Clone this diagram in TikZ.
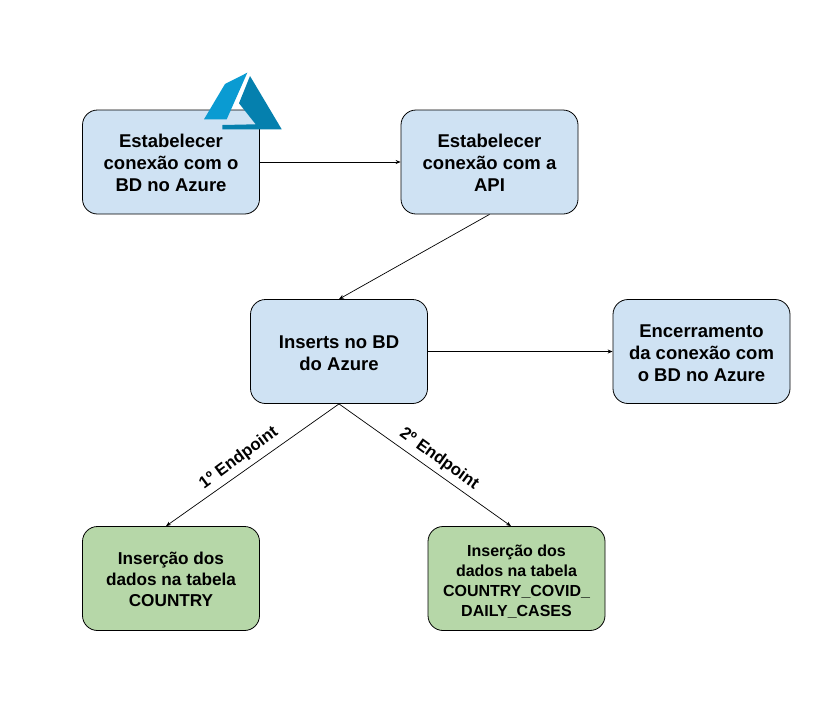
\documentclass[tikz,border=0pt]{standalone}
\usepackage{fontspec}
\setmainfont{Liberation Sans}
\definecolor{boxblue}{HTML}{CFE2F3}
\definecolor{boxgreen}{HTML}{B6D7A8}
\definecolor{logolight}{HTML}{0A9BD2}
\definecolor{logodark}{HTML}{0580AE}
\usetikzlibrary{arrows.meta}
\newcommand{\tdown}[1]{\rule{0pt}{#1pt}}
\tikzset{
  x=1pt,y=-1pt,
  bluebox/.style={draw=black,fill=boxblue,rounded corners=15pt,line width=0.8pt,minimum width=177pt,minimum height=104pt,align=center,inner sep=0pt,font=\fontsize{18.5}{22}\selectfont\bfseries},
  greenbox/.style={bluebox,fill=boxgreen,font=\fontsize{17.2}{21}\selectfont\bfseries},
  conn/.style={draw=black,line width=0.7pt,-{Stealth[length=5pt,width=4pt]}},
  edgelabel/.style={font=\fontsize{16.8}{18}\selectfont\bfseries,inner sep=0pt},
}
\begin{document}
\begin{tikzpicture}
\useasboundingbox (0,0) rectangle (829,723);
\node[bluebox] (a) at (171,162) {\tdown{15.5}Estabelecer\\conexão com o\\BD no Azure};
\node[bluebox] (b) at (489.5,162) {\tdown{15.5}Estabelecer\\conexão com a\\API};
\node[bluebox] (c) at (339,351.5) {\tdown{15.5}Inserts no BD\\do Azure};
\node[bluebox] (d) at (701.5,351.5) {\tdown{15.5}Encerramento\\da conexão com\\o BD no Azure};
\node[greenbox] (e) at (171,578.5) {\tdown{14.5}Inserção dos\\dados na tabela\\COUNTRY};
\node[greenbox,font=\fontsize{16}{20}\selectfont\bfseries] (f) at (516.5,578.5) {\tdown{18}Inserção dos\\dados na tabela\\COUNTRY\_COVID\_\\DAILY\_CASES};
\draw[conn] (a.east) -- (b.west);
\draw[conn] (b.south) -- (c.north);
\draw[conn] (c.east) -- (d.west);
\draw[conn] (c.south) -- ([xshift=-5pt]e.north);
\draw[conn] (c.south) -- ([xshift=-5.5pt]f.north);
\node[edgelabel,rotate=36.5] (l1) at (239,458) {1º Endpoint};
\node[edgelabel,rotate=-36] (l2) at (439,459) {2º Endpoint};
\fill[logolight] (247.3,72.7) -- (225,84) -- (204,119.3) -- (226.7,119.3) -- cycle;
\fill[logodark] (250,76) -- (239,103.3) -- (255.7,124.3) -- (222.5,125) -- (222.3,129.3) -- (281.7,129.3) -- cycle;
\end{tikzpicture}
\end{document}
